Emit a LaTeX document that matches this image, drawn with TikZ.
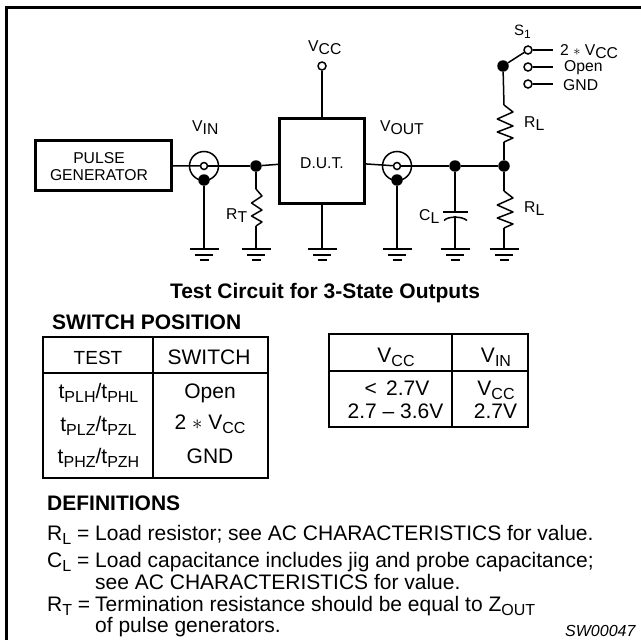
\documentclass[tikz,border=0pt]{standalone}
\usepackage{fontspec}
\setmainfont{Liberation Sans}
\usepackage{amsmath}
\usepackage{tikz}
\usetikzlibrary{positioning}
\newcommand{\lowsub}[1]{\raisebox{-3.5pt}{#1}}
\newcommand{\bigsub}[1]{\raisebox{-4.5pt}{\fontsize{16}{18}\selectfont #1}}
\tikzset{
  wire/.style={line width=1.5pt},
  heavy/.style={line width=2.8pt},
  txt/.style={inner sep=0pt,anchor=base west,font=\fontsize{15.7}{18}\selectfont},
  mid/.style={txt,anchor=base},
  big/.style={txt,font=\fontsize{21}{24}\selectfont},
  bigmid/.style={big,anchor=base},
  hd/.style={big,font=\fontsize{21}{24}\selectfont\bfseries},
  blob/.style={circle,fill,inner sep=0pt,minimum size=11.5pt},
  term/.style={circle,draw,fill=white,wire,inner sep=0pt,minimum size=8pt},
  coax/.style={circle,draw,wire,inner sep=0pt,minimum size=29pt},
  pics/gndsym/.style={code={
    \draw[wire] (-14.5,0)--(14.5,0);
    \draw[wire] (-9,6)--(9,6);
    \draw[wire] (-4.5,11)--(4.5,11);
  }},
  pics/zig/.style={code={
    \coordinate (-a) at (0,0);
    \coordinate (-b) at (0,37);
    \draw[wire,line join=round] (-a)--(#1,7)--(-#1*.75,14)--(#1,21)--(-#1*.75,27)--(#1,33)--(-b);
  }},
}
\begin{document}
\begin{tikzpicture}[x=1pt,y=-1pt]
\useasboundingbox (0,0) rectangle (641,640);
\fill[white] (0,0) rectangle (641,640);
\draw[line width=3pt] (6,640)--(6,7.5)--(641,7.5);

\node[draw,heavy,minimum width=136pt,minimum height=50pt,inner sep=0pt] (pulse) at (103.5,165.5) {};
\node[mid] (pulse1) at (99,163) {PULSE};
\node[mid] (pulse2) at (99,180) {GENERATOR};
\node[draw,heavy,minimum width=85pt,minimum height=85pt,inner sep=0pt] (dut) at (322,161) {};
\node[mid] (dutlbl) at (322,168) {D.U.T.};

\node[coax] (coaxin) at (204,166) {};
\node[term,minimum size=7pt] (pinin) at (204,166) {};
\node[blob] (shieldin) at (204,180) {};
\node[coax] (coaxout) at (397,166) {};
\node[term,minimum size=7pt] (pinout) at (397,166) {};
\node[blob] (shieldout) at (397,180) {};
\node[blob] (jt) at (256,166) {};
\node[blob] (jc) at (455,166) {};
\node[blob] (jr) at (504,166) {};
\node[blob] (jsw) at (503,66) {};
\node[term] (vcc) at (322,66) {};
\node[term] (sw1) at (528,50) {};
\node[term] (sw2) at (528,67) {};
\node[term] (sw3) at (528,84) {};
\coordinate (sw1e) at (553,50);
\coordinate (sw2e) at (553,67);
\coordinate (sw3e) at (553,84);

\coordinate (g1) at (204,249);
\coordinate (g2) at (256,249);
\coordinate (g3) at (322,249);
\coordinate (g4) at (397,249);
\coordinate (g5) at (455,249);
\coordinate (g6) at (504,249);
\foreach \g in {g1,g2,g3,g4,g5,g6} \pic at (\g) {gndsym};

\pic (rt) at (256,189) {zig=6};
\pic (ru) at (504,105) {zig=9};
\pic (rd) at (504,191) {zig=9};

\draw[wire] (pulse)--(pinin);
\draw[wire] (pinin)--(jt);
\draw[wire] (jt)--(dut);
\draw[wire] (dut)--(pinout);
\draw[wire] (pinout)--(jc);
\draw[wire] (jc)--(jr);
\draw[wire] (vcc)--(dut);
\draw[wire] (dut)--(g3);
\draw[wire] (shieldin)--(g1);
\draw[wire] (shieldout)--(g4);
\draw[wire] (jt)--(rt-a);
\draw[wire] (rt-b)--(g2);
\draw[wire] (jsw)--(ru-a);
\draw[wire] (ru-b)--(jr);
\draw[wire] (jr)--(rd-a);
\draw[wire] (rd-b)--(g6);
\draw[wire] (jsw)--(sw1);
\draw[wire] (sw1)--(sw1e);
\draw[wire] (sw2)--(sw2e);
\draw[wire] (sw3)--(sw3e);

% capacitor
\coordinate (captop) at (455,212);
\coordinate (capbot) at (455,215.5);
\draw[wire] (jc)--(captop);
\draw[wire] (capbot)--(g5);
\draw[wire] (443,212)--(468,212);
\draw[wire] (444,220.5) .. controls (448,216) and (462,216) .. (467,220.5);

\node[txt] (vcclbl) at (308,51) {V\lowsub{CC}};
\node[txt] (vinlbl) at (192,131) {V\lowsub{IN}};
\node[txt] (voutlbl) at (380,131) {V\lowsub{OUT}};
\node[txt] (rtlbl) at (226,219) {R\lowsub{T}};
\node[txt] (cllbl) at (419,220) {C\lowsub{L}};
\node[txt] (rulbl) at (524,127) {R\lowsub{L}};
\node[txt] (rdlbl) at (524,212) {R\lowsub{L}};
\node[txt,font=\fontsize{15}{16}\selectfont] (slbl) at (514,35) {S\raisebox{-3pt}{\fontsize{12}{12}\selectfont 1}};
\node[txt] (pos1) at (560,55) {2 \ensuremath{*} V\lowsub{CC}};
\node[txt] (pos2) at (564,71) {Open};
\node[txt] (pos3) at (563,90) {GND};

\node[hd,anchor=base] (title) at (325,298) {Test Circuit for 3-State Outputs};
\node[hd] (swhead) at (52,329) {SWITCH POSITION};

\draw[line width=1.5pt] (43,337) rectangle (268,478);
\draw[line width=1.5pt] (43,373)--(268,373);
\draw[line width=1.5pt] (153,337)--(153,478);
\node[bigmid,font=\fontsize{19}{24}\selectfont] (test) at (98,364) {TEST};
\node[bigmid] (switch) at (209,364) {SWITCH};
\node[bigmid] (a1) at (98.5,398) {t\bigsub{PLH}/t\bigsub{PHL}};
\node[bigmid] (a2) at (98.5,431) {t\bigsub{PLZ}/t\bigsub{PZL}};
\node[bigmid] (a3) at (98.5,463) {t\bigsub{PHZ}/t\bigsub{PZH}};
\node[bigmid] (b1) at (210,398) {Open};
\node[bigmid] (b2) at (210,429) {2 \ensuremath{*} V\bigsub{CC}};
\node[bigmid] (b3) at (210,463) {GND};

\draw[line width=1.5pt] (329,334) rectangle (528,427);
\draw[line width=1.5pt] (329,371)--(528,371);
\draw[line width=1.5pt] (452,334)--(452,427);
\node[bigmid] (c0) at (396,362) {V\bigsub{CC}};
\node[bigmid] (d0) at (496,362) {V\bigsub{IN}};
\node[bigmid] (c1) at (397,395) {<\, 2.7V};
\node[bigmid] (c2) at (395.5,418) {2.7 -- 3.6V};
\node[bigmid] (d1) at (496,395) {V\bigsub{CC}};
\node[bigmid] (d2) at (495.5,418) {2.7V};

\node[hd] (defs) at (47,510) {DEFINITIONS};
\node[big] (k1) at (47,540) {R\bigsub{L} =};
\node[big] (v1) at (95,540) {Load resistor; see AC CHARACTERISTICS for value.};
\node[big] (k2) at (47,567) {C\bigsub{L} =};
\node[big] (v2) at (95,567) {Load capacitance includes jig and probe capacitance;};
\node[big] (v2b) at (95,589) {see AC CHARACTERISTICS for value.};
\node[big] (k3) at (47,611) {R\bigsub{T} =};
\node[big] (v3) at (95,611) {Termination resistance should be equal to Z\bigsub{OUT}};
\node[big] (v3b) at (95,632) {of pulse generators.};
\node[txt,font=\fontsize{16}{18}\selectfont\itshape] (code) at (565,636.5) {SW00047};
\end{tikzpicture}
\end{document}
